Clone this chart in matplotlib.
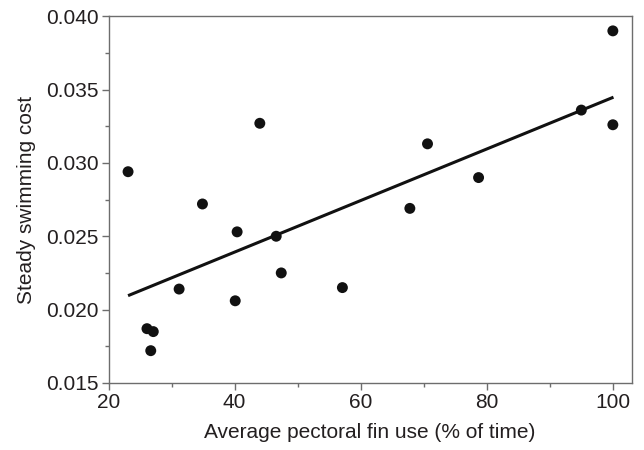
import numpy as np
import matplotlib.pyplot as plt
import matplotlib.ticker as mticker

plt.rcParams['font.family'] = ['Liberation Sans', 'DejaVu Sans']

# fin use (% of time) and steady swimming cost
fin_use = [23.1, 26.1, 27.1, 26.7, 31.2, 34.9, 40.1, 40.4, 44.0, 46.6,
           47.4, 57.1, 67.8, 70.6, 78.7, 95.0, 100.0, 100.0]
swim_cost = [0.0294, 0.0187, 0.0185, 0.0172, 0.0214, 0.0272, 0.0206, 0.0253, 0.0327, 0.0250,
             0.0225, 0.0215, 0.0269, 0.0313, 0.0290, 0.0336, 0.0390, 0.0326]

# regression line end points
fit_x = [23.1, 100.1]
fit_y = [0.02095, 0.03448]

text_col = '#231f20'
spine_col = '#6d6d6d'

fig = plt.figure(figsize=(6.44, 4.5), dpi=100)
ax = fig.add_axes([0.1685, 0.149, 0.8125, 0.815])

ax.plot(fit_x, fit_y, color='#111111', linewidth=2.2, solid_capstyle='butt', zorder=2)
ax.scatter(fin_use, swim_cost, s=62, color='#111111', edgecolors='none', zorder=3)

ax.set_xlim(20, 103)
ax.set_ylim(0.015, 0.040)

ax.xaxis.set_major_locator(mticker.MultipleLocator(20))
ax.xaxis.set_minor_locator(mticker.MultipleLocator(10))
ax.yaxis.set_major_locator(mticker.MultipleLocator(0.005))
ax.yaxis.set_minor_locator(mticker.MultipleLocator(0.0025))
ax.yaxis.set_major_formatter(mticker.FormatStrFormatter('%.3f'))

for s in ax.spines.values():
    s.set_color(spine_col)
    s.set_linewidth(1.0)

ax.tick_params(which='major', direction='out', length=5, width=1, color=spine_col,
               labelsize=15, labelcolor=text_col, pad=2)
ax.tick_params(which='minor', direction='out', length=3, width=1, color=spine_col)

ax.set_xlabel('Average pectoral fin use (% of time)', fontsize=15, color=text_col, labelpad=8)
ax.set_ylabel('Steady swimming cost', fontsize=15, color=text_col, labelpad=7)

fig.savefig('out.png', dpi=100)
